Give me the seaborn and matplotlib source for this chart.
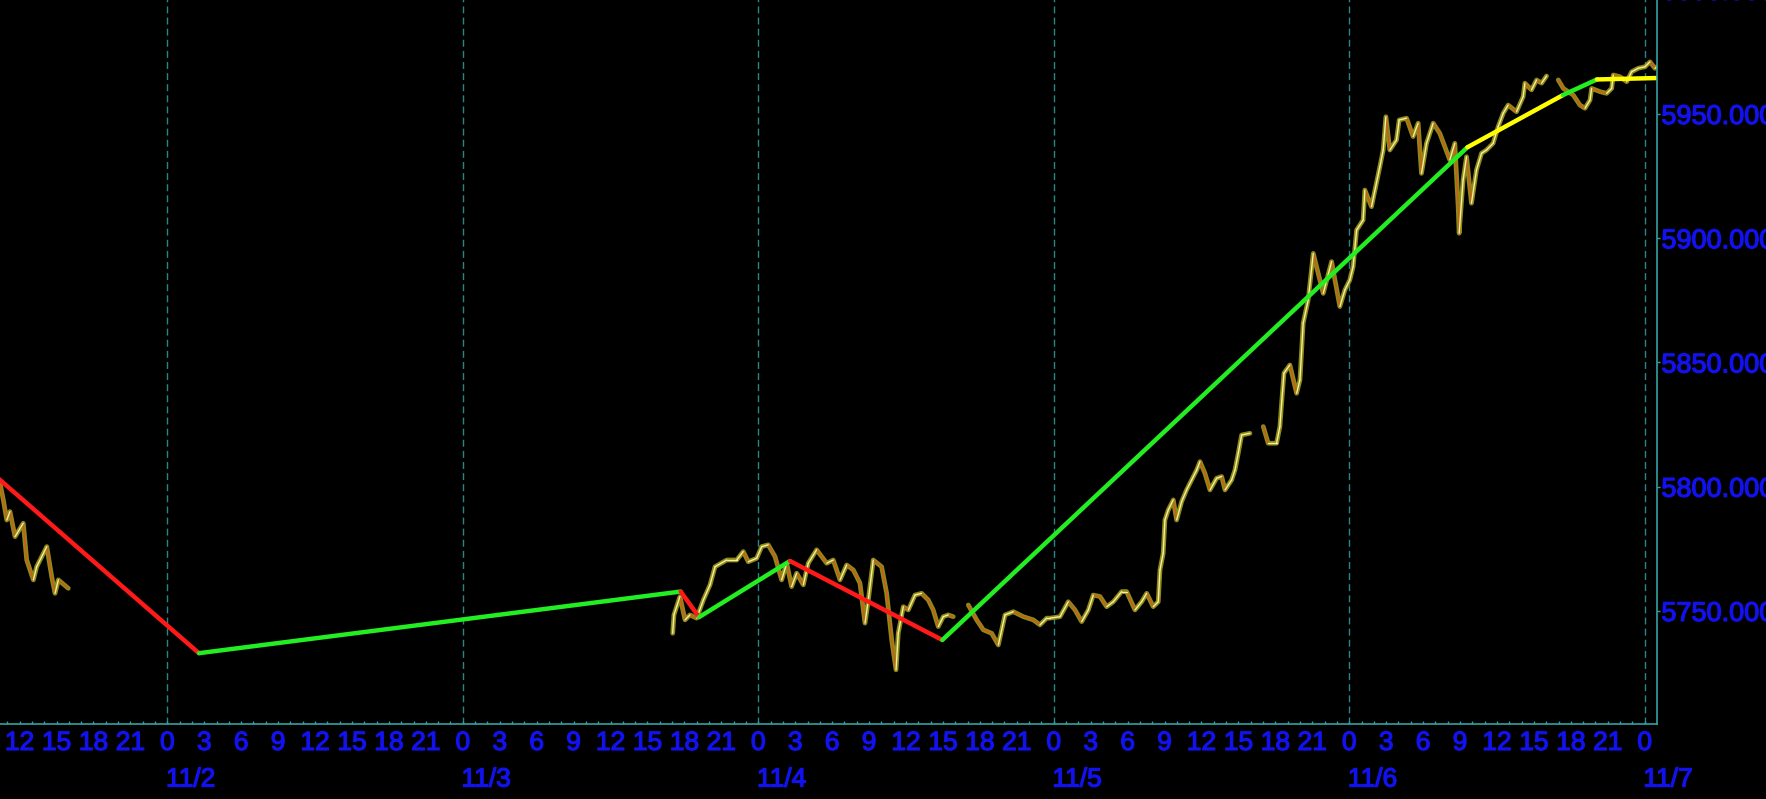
import matplotlib
matplotlib.use("Agg")
import matplotlib.pyplot as plt
import matplotlib.patheffects as pe
from matplotlib.ticker import MultipleLocator, FuncFormatter
import pandas as pd
import seaborn as sns

# time axis: hours counted from 11/1 00:00, price in index points
# 11/1 session (until the weekend)
t_s1 = [10.41, 10.68, 10.96, 11.22, 11.63, 12.30, 12.58, 13.12, 13.39, 14.21, 14.61, 14.88, 15.15, 15.96]
p_s1 = [5801.4, 5794.7, 5786.6, 5790.0, 5779.9, 5785.3, 5770.5, 5762.5, 5767.8, 5775.9, 5763.8, 5757.1, 5762.5, 5759.1]

# 11/3 17:00 - 11/4 16:00
t_s2 = [65.05, 65.15, 65.64, 66.05, 66.45, 67.00, 67.54, 68.08, 68.49, 69.44, 70.25, 70.78, 71.19, 71.87,
        72.28, 72.81, 73.36, 73.90, 74.31, 74.71, 75.12, 75.66, 76.06, 76.74, 77.56, 78.09, 78.64, 79.18,
        79.72, 80.26, 80.67, 80.94, 81.34, 82.02, 82.43, 82.84, 83.19, 83.37, 83.78, 84.19, 84.73, 85.27,
        85.81, 86.21, 86.62, 87.03, 87.43, 87.84]
p_s2 = [5741.0, 5748.4, 5755.8, 5746.4, 5748.4, 5747.1, 5754.4, 5760.5, 5767.8, 5770.5, 5770.5, 5773.9,
        5769.8, 5771.2, 5775.9, 5776.6, 5771.9, 5762.5, 5769.2, 5759.8, 5765.2, 5760.5, 5769.2, 5774.6,
        5769.2, 5770.5, 5762.5, 5768.5, 5766.5, 5761.2, 5745.1, 5754.4, 5770.5, 5767.8, 5757.1, 5738.3,
        5726.3, 5741.0, 5751.7, 5750.4, 5756.4, 5757.1, 5754.4, 5750.4, 5743.7, 5747.7, 5748.4, 5747.7]

# 11/4 17:00 - 11/5 16:00
t_s3 = [89.06, 89.74, 90.28, 90.96, 91.50, 92.04, 92.72, 93.53, 94.34, 94.88, 95.43, 95.70, 96.51, 97.18,
        97.73, 98.27, 98.81, 99.21, 99.76, 100.30, 100.84, 101.52, 101.92, 102.60, 103.14, 103.55, 104.08,
        104.49, 104.63, 104.89, 105.03, 105.30, 105.71, 105.98, 106.39, 106.79, 107.20, 107.61, 107.88,
        108.28, 108.69, 109.23, 109.64, 109.91, 110.45, 110.72, 110.99, 111.26, 111.94]
p_s3 = [5752.4, 5746.4, 5742.4, 5741.0, 5736.3, 5748.4, 5749.7, 5747.7, 5746.4, 5744.4, 5747.1, 5747.1,
        5747.7, 5753.7, 5750.4, 5745.7, 5750.4, 5756.4, 5755.8, 5751.7, 5753.7, 5757.8, 5757.8, 5750.4,
        5753.7, 5757.1, 5751.7, 5753.7, 5766.5, 5773.2, 5786.6, 5790.6, 5794.7, 5786.6, 5794.0, 5798.7,
        5802.7, 5806.7, 5810.1, 5805.4, 5798.7, 5803.4, 5804.1, 5798.7, 5802.7, 5806.7, 5813.5, 5820.8, 5821.5]

# 11/5 17:00 - 11/6 16:00
t_s4 = [113.02, 113.42, 114.10, 114.37, 114.53, 114.70, 115.18, 115.73, 116.00, 116.26, 116.67, 117.08,
        117.48, 117.89, 118.57, 119.24, 119.65, 120.05, 120.32, 120.60, 121.13, 121.27, 121.81, 122.49,
        122.76, 122.98, 123.30, 123.84, 124.06, 124.66, 125.19, 125.60, 125.87, 126.28, 126.82, 127.36,
        127.77, 128.17, 128.58, 128.85, 128.93, 129.25, 129.53, 129.93, 130.34, 130.75, 131.15, 131.69,
        132.10, 132.51, 132.91, 133.59, 134.13, 134.27, 134.81, 135.22, 135.63, 136.03]
p_s4 = [5824.2, 5817.5, 5817.5, 5824.2, 5834.9, 5845.7, 5849.0, 5837.6, 5843.0, 5865.8, 5875.2, 5893.9,
        5885.9, 5877.8, 5890.6, 5872.5, 5879.2, 5883.2, 5888.6, 5903.3, 5907.3, 5919.4, 5912.7, 5928.8,
        5935.5, 5948.9, 5935.5, 5939.5, 5947.6, 5948.3, 5940.9, 5946.3, 5926.1, 5938.2, 5946.3, 5942.2,
        5936.8, 5931.5, 5938.2, 5912.7, 5902.0, 5923.4, 5932.8, 5914.1, 5927.5, 5934.2, 5935.5, 5938.2,
        5944.9, 5950.3, 5953.6, 5950.9, 5957.0, 5962.4, 5959.7, 5963.7, 5962.4, 5965.3]

# 11/6 17:00 - end
t_s5 = [136.98, 137.39, 138.20, 138.74, 139.15, 139.56, 139.69, 140.37, 140.91, 141.32, 141.45, 141.99,
        142.54, 142.94, 143.48, 144.02, 144.43, 144.83, 145.0]
p_s5 = [5963.7, 5960.3, 5957.6, 5953.6, 5952.3, 5955.6, 5960.3, 5959.0, 5958.3, 5960.3, 5965.7, 5965.0,
        5963.0, 5967.0, 5968.4, 5969.0, 5971.0, 5968.4, 5969.0]

# zigzag pivots and the colour of each leg
zz_t = [10.0, 26.57, 65.70, 67.19, 74.58, 86.95, 129.6, 137.36, 140.12, 145.2]
zz_p = [5804.5, 5733.0, 5757.8, 5747.5, 5770.1, 5738.3, 5936.6, 5957.6, 5963.9, 5964.5]
zz_col = ["#ff1a1a", "#22ee22", "#ff1a1a", "#22ee22", "#ff1a1a", "#22ee22", "#ffff00", "#22ee22", "#ffff00"]

day_names = ["11/2", "11/3", "11/4", "11/5", "11/6", "11/7"]

teal = "#35a0a0"
blue = "#1212ee"

sessions = [(t_s1, p_s1), (t_s2, p_s2), (t_s3, p_s3), (t_s4, p_s4), (t_s5, p_s5)]
price = pd.concat([pd.DataFrame({"hour": t, "price": p, "session": i})
                   for i, (t, p) in enumerate(sessions)], ignore_index=True)

# candle-ish colouring: each step coloured by its direction
steps = []
k = 0
for t, p in sessions:
    for j in range(len(t) - 1):
        d = "up" if p[j + 1] >= p[j] else "down"
        steps.append({"hour": t[j], "price": p[j], "step": k, "dir": d})
        steps.append({"hour": t[j + 1], "price": p[j + 1], "step": k, "dir": d})
        k += 1
steps = pd.DataFrame(steps)

rows = []
for i in range(len(zz_col)):
    rows.append({"hour": zz_t[i], "price": zz_p[i], "seg": i})
    rows.append({"hour": zz_t[i + 1], "price": zz_p[i + 1], "seg": i})
zz = pd.DataFrame(rows)

sns.set_theme(style="dark", rc={"axes.facecolor": "black", "figure.facecolor": "black"})
plt.rcParams['font.family'] = ['Liberation Sans', 'DejaVu Sans']

fig = plt.figure(figsize=(17.66, 7.99), dpi=100)
ax = fig.add_axes([0, 75 / 799, 1656.5 / 1766, 759.1 / 799])
ax.set_facecolor("black")
ax.grid(False)

# day separators
for d in range(1, 7):
    ax.axvline(24 * d, color="#2b8585", lw=1, ls=(0, (5, 3)), zorder=0)

sns.lineplot(data=price, x="hour", y="price", units="session", estimator=None, sort=False,
             color="#8e8a18", lw=3.4, ax=ax)
sns.lineplot(data=steps, x="hour", y="price", hue="dir", units="step", estimator=None, sort=False,
             palette={"up": "#f6eea0", "down": "#cf5a1c"}, lw=1.0, legend=False, ax=ax)
sns.lineplot(data=zz, x="hour", y="price", hue="seg", palette=dict(enumerate(zz_col)),
             estimator=None, sort=False, lw=3.2, legend=False, ax=ax)

ax.set_xlim(10.41, 144.96)
ax.set_ylim(5704.5, 6010)
ax.set_xlabel("")
ax.set_ylabel("")

for s in ["top", "left"]:
    ax.spines[s].set_visible(False)
for s in ["bottom", "right"]:
    ax.spines[s].set_visible(True)
    ax.spines[s].set_color(teal)
    ax.spines[s].set_linewidth(1.2)

bold = [pe.withStroke(linewidth=0.9, foreground=blue)]

ax.xaxis.set_major_locator(MultipleLocator(3))
ax.xaxis.set_minor_locator(MultipleLocator(1))
ax.xaxis.set_major_formatter(FuncFormatter(lambda v, pos: f"{int(round(v)) % 24}"))
ax.tick_params(axis="x", which="both", bottom=True, direction="in", length=2.5, width=1,
               color=teal, labelcolor=blue, labelsize=19, pad=5)

ax.yaxis.tick_right()
ax.yaxis.set_major_locator(MultipleLocator(50))
ax.yaxis.set_major_formatter(FuncFormatter(lambda v, pos: f"{v:.3f}"))
ax.tick_params(axis="y", right=True, left=False, direction="out", length=2.5, width=1,
               color=teal, labelcolor=blue, labelsize=19.5, pad=1)

for lab in ax.get_xticklabels() + ax.get_yticklabels():
    lab.set_path_effects(bold)

for d, name in enumerate(day_names, start=1):
    ax.annotate(name, xy=(24 * d, 0), xycoords=("data", "axes fraction"),
                xytext=(-1, -40), textcoords="offset points", ha="left", va="center",
                color=blue, fontsize=19, annotation_clip=False, path_effects=bold)

fig.savefig("out.png", dpi=100, facecolor="black")
